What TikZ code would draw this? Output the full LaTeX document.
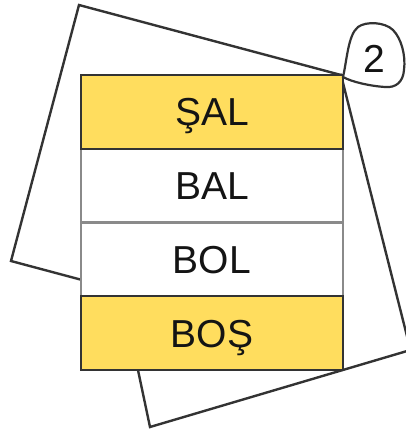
\documentclass[tikz,border=0pt]{standalone}
\usepackage{fontspec}
\setmainfont{Liberation Sans}
\definecolor{cardyellow}{HTML}{FFDD5E}
\definecolor{inkdark}{HTML}{333333}
\definecolor{inkgray}{HTML}{8A8A8A}
\tikzset{
  sheet/.style={draw=inkdark, line width=2.4pt, line join=miter},
  rowbox/.style={rectangle, minimum width=262pt, minimum height=73.75pt, inner sep=0pt, outer sep=0pt,
    line width=2pt, text height=28pt, text depth=0pt, font=\fontsize{39}{42}\selectfont, text=black!92},
  hirow/.style={rowbox, fill=cardyellow, draw=inkdark},
  plainrow/.style={rowbox, fill=white, draw=inkgray},
  badge/.style={inner sep=0pt, text height=28pt, text depth=0pt, font=\fontsize{39}{42}\selectfont, text=black!92}
}
\begin{document}
\begin{tikzpicture}[x=1pt,y=-1pt]
\useasboundingbox (0,0) rectangle (406,432);
% back sheets
\coordinate (s1a) at (79,5);
\coordinate (s1b) at (341,75);
\coordinate (s1c) at (273,331);
\coordinate (s1d) at (11,261);
\coordinate (s2a) at (341,75);
\coordinate (s2b) at (410.5,350);
\coordinate (s2c) at (150,427);
\coordinate (s2d) at (92,152);
\draw[sheet] (s2a) -- (s2b) -- (s2c) -- (s2d) -- cycle;
\draw[sheet] (s1a) -- (s1b) -- (s1c) -- (s1d) -- cycle;
% rows
\node[plainrow] (r2) at (212,185.6) {BAL};
\node[plainrow] (r3) at (212,259.4) {BOL};
\node[hirow] (r1) at (212,111.9) {ŞAL};
\node[hirow] (r4) at (212,333.1) {BOŞ};
% badge
\draw[draw=inkdark, line width=2.2pt, fill=white]
  (343,77) .. controls (347,60) and (348,35) .. (358,27)
  .. controls (366,21) and (385,22) .. (393,30)
  .. controls (401,38) and (406,55) .. (404,70)
  .. controls (403,82) and (396,88) .. (385,87)
  .. controls (370,86) and (352,82) .. (343,77) -- cycle;
\node[badge] (num) at (374.5,58) {2};
\end{tikzpicture}
\end{document}
